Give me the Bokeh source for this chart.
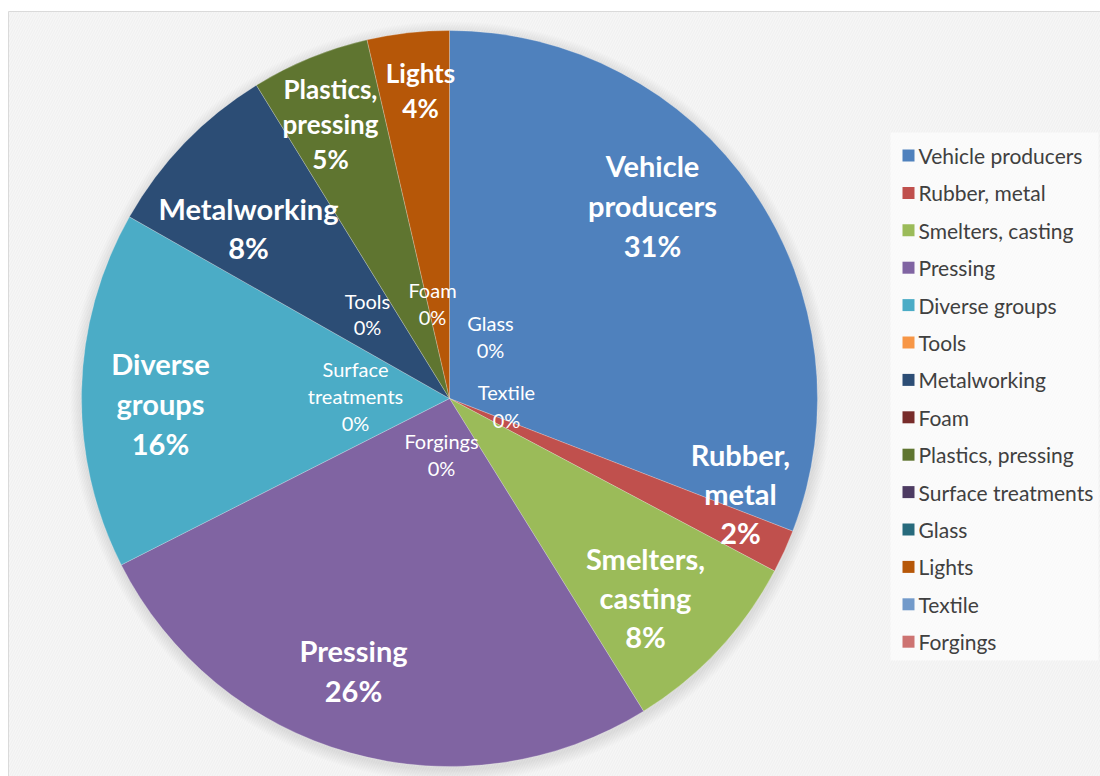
import math
from bokeh.plotting import figure
from bokeh.models import Range1d, ColumnDataSource
from bokeh.core.properties import value
from bokeh.embed import file_html
from bokeh.resources import INLINE

# ---------------- data ----------------
categories = ["Vehicle producers", "Rubber, metal", "Smelters, casting", "Pressing",
              "Diverse groups", "Tools", "Metalworking", "Foam", "Plastics, pressing",
              "Surface treatments", "Glass", "Lights", "Textile", "Forgings"]
shares = [30.9, 1.9, 8.4, 26.4, 15.7, 0.0, 8.0, 0.0, 5.2, 0.0, 0.0, 3.6, 0.0, 0.0]
colors = ["#4F81BD", "#C0504D", "#9BBB59", "#8064A2", "#4BACC6", "#F79646", "#2C4D75",
          "#772C2A", "#5F7530", "#4D3B62", "#276A7C", "#B65708", "#729ACA", "#CD7371"]

# ---------------- layout ----------------
W, H = 1100, 776
def Y(py):
    return H - py

CX, CY, R = 449, Y(398), 368

# label layout: (x_px, center_y_px, line_spacing, font_size, bold)
label_layout = {
    "Vehicle producers": (652, 205, 40, 29, True),
    "Rubber, metal": (740, 493, 39, 29, True),
    "Smelters, casting": (645, 597, 39, 29, True),
    "Pressing": (353, 670, 40, 29, True),
    "Diverse groups": (160, 403, 40, 29, True),
    "Metalworking": (248, 227, 39, 29, True),
    "Plastics, pressing": (330, 123, 35, 26, True),
    "Lights": (420, 90, 35, 26, True),
    "Tools": (367, 313, 26, 20, False),
    "Foam": (432, 303, 27, 20, False),
    "Glass": (490, 336, 27, 20, False),
    "Textile": (506, 405, 28, 20, False),
    "Surface treatments": (355, 395, 27, 20, False),
    "Forgings": (441, 454, 27, 20, False),
}

p = figure(width=W, height=H, output_backend="svg", toolbar_location=None,
           x_range=Range1d(0, W), y_range=Range1d(0, H), min_border=0,
           background_fill_color="white", border_fill_color="white")
p.axis.visible = False
p.grid.visible = False
p.outline_line_color = None

# panel background
p.quad(left=[8], right=[1100], bottom=[0], top=[Y(11)], fill_color="#f6f6f6",
       line_color="#dadada", line_width=1,
       hatch_pattern="right_diagonal_line", hatch_color="#efefef", hatch_scale=5, hatch_weight=1)

# soft shadow around the pie
for k in range(12, 0, -1):
    p.circle(x=[CX + 1], y=[CY - 3], radius=R + k, fill_color="#808080",
             fill_alpha=0.016, line_color=None)

# wedges
total = sum(shares)
starts, ends, wc, wn = [], [], [], []
cum = 0.0
for name, v, c in zip(categories, shares, colors):
    a0 = cum / total
    cum += v
    a1 = cum / total
    if v > 0:
        starts.append(math.pi / 2 - a0 * 2 * math.pi)
        ends.append(math.pi / 2 - a1 * 2 * math.pi)
        wc.append(c)
        wn.append(name)
src = ColumnDataSource(dict(start=starts, end=ends, color=wc, name=wn))
p.wedge(x=CX, y=CY, radius=R, start_angle="start", end_angle="end", direction="clock",
        fill_color="color", line_color="white", line_width=0.6, line_alpha=0.4, source=src)

# data labels
for name, v in zip(categories, shares):
    lx, lcy, sp, fs, bold = label_layout[name]
    lines = name.split(" ") + [f"{round(v)}%"]
    n = len(lines)
    for i, t in enumerate(lines):
        py = lcy + (i - (n - 1) / 2) * sp
        p.text(x=[lx], y=[Y(py)], text=[t], text_align="center", text_baseline="middle",
               text_color="white", text_font=value("Lato"), text_font_size=f"{fs}px",
               text_font_style="bold" if bold else "normal")

# legend
p.quad(left=[890], right=[1098], bottom=[Y(660)], top=[Y(132)], fill_color="white",
       fill_alpha=0.6, line_color=None)
leg_top, leg_sp = 155, 37.4
for i, (name, c) in enumerate(zip(categories, colors)):
    py = leg_top + i * leg_sp
    p.rect(x=[908], y=[Y(py)], width=12, height=12, fill_color=c, line_color=None)
    p.text(x=[918], y=[Y(py)], text=[name], text_align="left", text_baseline="middle",
           text_color="#404040", text_font=value("Lato"), text_font_size="21px")

open("out.html", "w").write(file_html(p, INLINE))
